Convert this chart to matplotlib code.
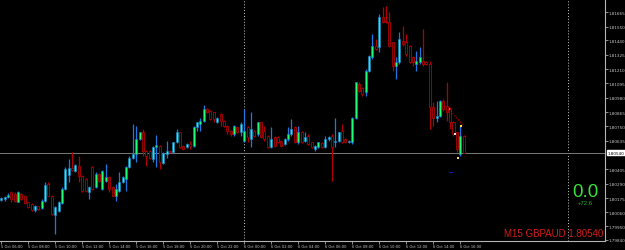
import matplotlib
matplotlib.use("Agg")
import matplotlib.pyplot as plt
import numpy as np

# M15 GBPAUD candles, 5 Oct 06:00 -> 6 Oct 16:15
opens = [1.80158, 1.80166, 1.80180, 1.80220, 1.80206, 1.80145, 1.80206, 1.80193, 1.80139, 1.80126,
         1.80080, 1.80107, 1.80091, 1.80153, 1.80287, 1.80193, 1.80038, 1.80072, 1.80134, 1.80247,
         1.80359, 1.80412, 1.80394, 1.80434, 1.80353, 1.80327, 1.80220, 1.80420, 1.80260, 1.80367,
         1.80247, 1.80313, 1.80340, 1.80260, 1.80193, 1.80233, 1.80300, 1.80327, 1.80420, 1.80500,
         1.80527, 1.80647, 1.80701, 1.80554, 1.80554, 1.80487, 1.80581, 1.80594, 1.80455, 1.80527,
         1.80554, 1.80541, 1.80621, 1.80701, 1.80594, 1.80581, 1.80607, 1.80594, 1.80741, 1.80768,
         1.80795, 1.80889, 1.80875, 1.80862, 1.80781, 1.80848, 1.80795, 1.80755, 1.80714, 1.80688,
         1.80741, 1.80701, 1.80634, 1.80741, 1.80647, 1.80714, 1.80688, 1.80781, 1.80714, 1.80674,
         1.80581, 1.80661, 1.80661, 1.80634, 1.80607, 1.80647, 1.80688, 1.80741, 1.80621, 1.80706,
         1.80634, 1.80674, 1.80621, 1.80567, 1.80581, 1.80615, 1.80581, 1.80647, 1.80674, 1.80621,
         1.80634, 1.80714, 1.80647, 1.80621, 1.80621, 1.80821, 1.81089, 1.81054, 1.81022, 1.81196,
         1.81303, 1.81397, 1.81383, 1.81624, 1.81597, 1.81584, 1.81423, 1.81236, 1.81263, 1.81437,
         1.81423, 1.81397, 1.81303, 1.81249, 1.81263, 1.81276, 1.81268, 1.81249, 1.80902, 1.80821,
         1.80835, 1.80955, 1.80915, 1.80889, 1.80781, 1.80701, 1.80527, 1.80674]
highs = [1.80183, 1.80193, 1.80212, 1.80233, 1.80220, 1.80233, 1.80215, 1.80199, 1.80145, 1.80134,
         1.80118, 1.80112, 1.80166, 1.80300, 1.80305, 1.80199, 1.80112, 1.80153, 1.80260, 1.80420,
         1.80487, 1.80546, 1.80447, 1.80514, 1.80359, 1.80332, 1.80268, 1.80434, 1.80380, 1.80375,
         1.80401, 1.80447, 1.80348, 1.80268, 1.80287, 1.80380, 1.80348, 1.80428, 1.80509, 1.80768,
         1.80755, 1.80706, 1.80728, 1.80562, 1.80562, 1.80589, 1.80680, 1.80599, 1.80541, 1.80634,
         1.80562, 1.80626, 1.80728, 1.80706, 1.80599, 1.80615, 1.80634, 1.80749, 1.80787, 1.80821,
         1.80920, 1.80894, 1.80880, 1.80867, 1.80829, 1.80856, 1.80803, 1.80760, 1.80720, 1.80760,
         1.80746, 1.80781, 1.80889, 1.80755, 1.80862, 1.80720, 1.80787, 1.80787, 1.80755, 1.80680,
         1.80741, 1.80669, 1.80669, 1.80642, 1.80653, 1.80741, 1.80808, 1.80755, 1.80755, 1.80714,
         1.80701, 1.80688, 1.80626, 1.80599, 1.80626, 1.80621, 1.80674, 1.80674, 1.80688, 1.80821,
         1.80706, 1.80768, 1.80653, 1.80642, 1.80829, 1.81108, 1.81102, 1.81062, 1.81209, 1.81322,
         1.81490, 1.81450, 1.81651, 1.81704, 1.81718, 1.81664, 1.81429, 1.81303, 1.81504, 1.81557,
         1.81490, 1.81402, 1.81316, 1.81356, 1.81383, 1.81530, 1.81276, 1.81276, 1.80942, 1.80955,
         1.80963, 1.80969, 1.81102, 1.80902, 1.80795, 1.80706, 1.80755, 1.80680]
lows = [1.80150, 1.80153, 1.80172, 1.80139, 1.80145, 1.80139, 1.80158, 1.80126, 1.80091, 1.80072,
        1.80059, 1.80080, 1.80086, 1.80145, 1.80188, 1.80038, 1.79886, 1.80064, 1.80126, 1.80241,
        1.80300, 1.80394, 1.80386, 1.80300, 1.80225, 1.80225, 1.80166, 1.80241, 1.80252, 1.80305,
        1.80241, 1.80305, 1.80220, 1.80188, 1.80153, 1.80220, 1.80292, 1.80233, 1.80412, 1.80487,
        1.80460, 1.80639, 1.80514, 1.80434, 1.80492, 1.80460, 1.80420, 1.80407, 1.80447, 1.80500,
        1.80533, 1.80533, 1.80613, 1.80573, 1.80559, 1.80573, 1.80567, 1.80586, 1.80714, 1.80714,
        1.80787, 1.80854, 1.80800, 1.80781, 1.80773, 1.80755, 1.80746, 1.80688, 1.80669, 1.80674,
        1.80693, 1.80674, 1.80621, 1.80621, 1.80581, 1.80666, 1.80674, 1.80653, 1.80634, 1.80573,
        1.80573, 1.80586, 1.80613, 1.80586, 1.80599, 1.80634, 1.80674, 1.80613, 1.80607, 1.80613,
        1.80621, 1.80599, 1.80573, 1.80554, 1.80573, 1.80573, 1.80573, 1.80634, 1.80313, 1.80581,
        1.80626, 1.80613, 1.80613, 1.80613, 1.80607, 1.80813, 1.81022, 1.80995, 1.80995, 1.81188,
        1.81290, 1.81362, 1.81343, 1.81576, 1.81576, 1.81383, 1.81196, 1.81129, 1.81249, 1.81397,
        1.81316, 1.81255, 1.81236, 1.81196, 1.81249, 1.81236, 1.81241, 1.80728, 1.80755, 1.80781,
        1.80827, 1.80875, 1.80795, 1.80728, 1.80674, 1.80541, 1.80514, 1.80535]
closes = [1.80172, 1.80180, 1.80199, 1.80166, 1.80153, 1.80220, 1.80166, 1.80134, 1.80099, 1.80080,
          1.80112, 1.80086, 1.80153, 1.80279, 1.80193, 1.80046, 1.80099, 1.80139, 1.80247, 1.80407,
          1.80412, 1.80401, 1.80439, 1.80353, 1.80233, 1.80233, 1.80260, 1.80247, 1.80367, 1.80313,
          1.80394, 1.80340, 1.80247, 1.80193, 1.80247, 1.80300, 1.80340, 1.80420, 1.80500, 1.80527,
          1.80647, 1.80701, 1.80554, 1.80514, 1.80500, 1.80581, 1.80599, 1.80460, 1.80535, 1.80554,
          1.80541, 1.80621, 1.80701, 1.80581, 1.80567, 1.80607, 1.80594, 1.80741, 1.80781, 1.80795,
          1.80889, 1.80862, 1.80808, 1.80808, 1.80821, 1.80795, 1.80755, 1.80714, 1.80688, 1.80755,
          1.80701, 1.80768, 1.80714, 1.80661, 1.80728, 1.80674, 1.80781, 1.80661, 1.80647, 1.80581,
          1.80647, 1.80594, 1.80621, 1.80594, 1.80647, 1.80688, 1.80728, 1.80621, 1.80701, 1.80621,
          1.80661, 1.80607, 1.80581, 1.80594, 1.80621, 1.80581, 1.80647, 1.80666, 1.80581, 1.80634,
          1.80701, 1.80621, 1.80621, 1.80634, 1.80821, 1.81102, 1.81035, 1.81009, 1.81196, 1.81316,
          1.81397, 1.81370, 1.81624, 1.81584, 1.81584, 1.81397, 1.81236, 1.81263, 1.81450, 1.81410,
          1.81330, 1.81263, 1.81263, 1.81276, 1.81303, 1.81249, 1.81249, 1.80902, 1.80821, 1.80835,
          1.80955, 1.80889, 1.80862, 1.80781, 1.80688, 1.80567, 1.80674, 1.80540]

time_labels = ["5 Oct 06:00", "5 Oct 08:00", "5 Oct 10:00", "5 Oct 12:00", "5 Oct 14:00",
               "5 Oct 16:00", "5 Oct 18:00", "5 Oct 20:00", "5 Oct 22:00", "6 Oct 00:00",
               "6 Oct 02:00", "6 Oct 04:00", "6 Oct 06:00", "6 Oct 08:00", "6 Oct 10:00",
               "6 Oct 12:00", "6 Oct 14:00", "6 Oct 16:00"]
price_ticks = [1.79840, 1.79950, 1.80060, 1.80175, 1.80290, 1.80405, 1.80635, 1.80750,
               1.80865, 1.80980, 1.81095, 1.81210, 1.81325, 1.81440, 1.81550, 1.81665]
day_separators = [72, 168]   # bar index of 6 Oct 00:00 and 7 Oct 00:00
bid = 1.80540

# small indicator marks near the end
trend_x = [132.7, 136.8]
trend_y = [1.80889, 1.80760]
mark_x = [132.8, 134.5, 135.4, 136.3]
mark_y = [1.80889, 1.80688, 1.80496, 1.80753]
mark_colors = ["#ff5050", "#e8e8e8", "#ffd890", "#ffe040"]
dash_x = [132.6, 133.6]
dash_y = [1.80383, 1.80383]

opens = np.array(opens)
closes = np.array(closes)
highs = np.array(highs)
lows = np.array(lows)
x = np.arange(len(opens))
bull = closes >= opens

fig = plt.figure(figsize=(6.25, 2.51), dpi=100, facecolor="black")
ax = fig.add_axes([0, 9 / 251, 605 / 625, 242 / 251], facecolor="black")

# wicks
ax.vlines(x[bull], lows[bull], highs[bull], color="#1f78e0", lw=0.9, zorder=2)
ax.vlines(x[~bull], lows[~bull], highs[~bull], color="#b00000", lw=0.9, zorder=2)

# bodies
h = closes - opens
h = np.where(np.abs(h) < 0.00003, np.sign(h + 1e-9) * 0.00003, h)
ax.bar(x[bull], h[bull], bottom=opens[bull], width=0.62, color="#1eff78",
       edgecolor="#1f78e0", linewidth=0.4, zorder=3)
ax.bar(x[~bull], h[~bull], bottom=opens[~bull], width=0.62, color="black",
       edgecolor="#b40000", linewidth=0.6, zorder=3)

ax.plot(trend_x, trend_y, color="#d00000", lw=0.8, ls=(0, (1, 1.5)), zorder=4)
ax.scatter(mark_x, mark_y, s=1.5, marker="s", c=mark_colors, zorder=5, linewidths=0)
ax.plot(dash_x, dash_y, color="#1020a0", lw=0.8, zorder=4)

for d in day_separators:
    ax.axvline(d, color="#c8c8c8", lw=0.7, ls=(0, (1, 2)), zorder=1)
ax.axhline(bid, color="#7a7a7a", lw=0.7, zorder=1)

ax.set_xlim(-0.35, 178.9)
ax.set_ylim(1.79830, 1.81772)

ax.set_xticks(np.arange(0, 8 * len(time_labels), 8))
ax.set_xticklabels(time_labels, ha="left")
ax.yaxis.tick_right()
ax.set_yticks(price_ticks)
ax.set_yticklabels([f"{p:.5f}" for p in price_ticks])
ax.tick_params(axis="x", colors="#c8c8c8", labelsize=2.6, length=2, width=0.5, pad=0.5)
ax.tick_params(axis="y", colors="#c8c8c8", labelsize=3.0, length=2, width=0.5, pad=0.5)

for s in ["top", "left"]:
    ax.spines[s].set_visible(False)
for s in ["right", "bottom"]:
    ax.spines[s].set_color("#b4b4b4")
    ax.spines[s].set_linewidth(0.8)

# current price box on the axis
ax.annotate(f"{bid:.5f}", xy=(1.004, bid), xycoords=("axes fraction", "data"),
            ha="left", va="center", fontsize=3.0, color="black",
            bbox=dict(boxstyle="square,pad=0.15", fc="white", ec="white"),
            annotation_clip=False)

ax.text(0.9678, 0.186, "0.0", transform=ax.transAxes, ha="center", va="baseline",
        fontsize=13.5, color="#3ae03a", family="Liberation Sans")
ax.text(0.9678, 0.153, "+72.6", transform=ax.transAxes, ha="center", va="baseline",
        fontsize=4.3, color="#2eb82e", family="Liberation Sans")
ax.text(0.9967, 0.02, "M15 GBPAUD 1.80540", transform=ax.transAxes, ha="right",
        va="baseline", fontsize=7, color="#d21e1e", family="Liberation Sans")

fig.savefig("out.png", dpi=100, facecolor="black")
